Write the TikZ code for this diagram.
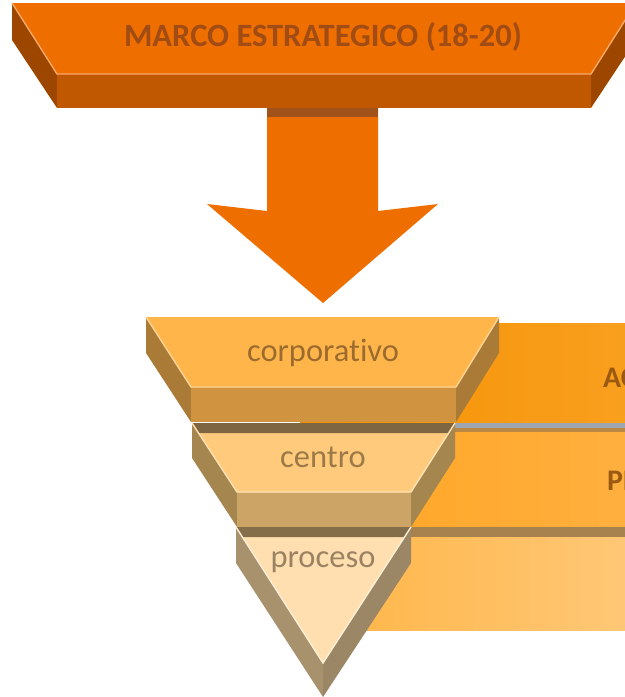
\documentclass[tikz,border=0pt]{standalone}
\usepackage{fontspec}
\setmainfont[Ligatures=NoCommon]{Carlito}
\definecolor{bannerTop}{HTML}{EF6E00}
\definecolor{bannerFront}{HTML}{BF5800}
\definecolor{bannerSide}{HTML}{9C4600}
\definecolor{bannerEdge}{HTML}{F8A868}
\definecolor{bannerText}{HTML}{A04C14}
\definecolor{arrowShade}{HTML}{A05218}
\definecolor{corpTop}{HTML}{FFB54A}
\definecolor{corpFront}{HTML}{D09440}
\definecolor{corpSide}{HTML}{A97B36}
\definecolor{corpEdge}{HTML}{FFD496}
\definecolor{corpText}{HTML}{9C6B2E}
\definecolor{centroTop}{HTML}{FFCA7C}
\definecolor{centroFront}{HTML}{CCA566}
\definecolor{centroSide}{HTML}{A6864F}
\definecolor{centroEdge}{HTML}{FFE2B4}
\definecolor{centroText}{HTML}{9B7A48}
\definecolor{procesoTop}{HTML}{FFDFB0}
\definecolor{procesoSide}{HTML}{A8926E}
\definecolor{procesoEdge}{HTML}{FFEFD6}
\definecolor{procesoText}{HTML}{9A8262}
\definecolor{tierShadow}{HTML}{7E6642}
\definecolor{bandA}{HTML}{F59000}
\definecolor{bandAr}{HTML}{F9A020}
\definecolor{bandB}{HTML}{FFA422}
\definecolor{bandBr}{HTML}{FFB040}
\definecolor{bandC}{HTML}{FFB444}
\definecolor{bandCr}{HTML}{FFC878}
\definecolor{bandLine}{HTML}{9EA7B0}
\definecolor{bandShadow}{HTML}{A8824E}
\definecolor{bandText}{HTML}{9A5A12}
\tikzset{
  tierlabel/.style={font=\fontsize{18.5}{21}\selectfont},
  bandlabel/.style={anchor=west,font=\bfseries\fontsize{17}{19}\selectfont,text=bandText}
}
\begin{document}
\begin{tikzpicture}[x=0.02cm,y=-0.02cm]
        \useasboundingbox (0,0) rectangle (625,697);
        \clip (0,0) rectangle (625,697);

        % bands behind the funnel
        \shade[left color=bandA,right color=bandAr] (300,323) rectangle (640,423);
        \shade[left color=bandB,right color=bandBr] (300,428) rectangle (640,527);
        \shade[left color=bandC,right color=bandCr] (300,537) rectangle (640,630);
        \fill[bandLine] (300,423) rectangle (640,428);
        \fill[bandShadow!80!bandB] (300,428) rectangle (640,432);
        \fill[bandShadow] (300,527) rectangle (640,537);
        \node[bandlabel] (ac) at (597,378) {AC};
        \node[bandlabel] (pl) at (601,481) {PL};

        % banner
        \fill[bannerSide] (12,3) -- (12,40) -- (57,108) -- (57,74) -- cycle;
        \fill[bannerSide] (636,3) -- (636,40) -- (591,108) -- (591,74) -- cycle;
        \fill[bannerFront] (57,74) rectangle (591,108);
        \fill[bannerTop] (12,3) -- (636,3) -- (591,74) -- (57,74) -- cycle;
        \draw[bannerEdge,line width=0.8pt] (12,3) -- (57,74) -- (591,74) -- (636,3);
        \node[font=\bfseries\fontsize{18.5}{21}\selectfont,text=bannerText] (marco) at (323,37) {MARCO ESTRATEGICO (18-20)};

        % arrow
        \fill[bannerTop] (267,108) -- (378,108) -- (378,211) -- (438,204) -- (323,303)
            -- (207,204) -- (267,211) -- cycle;
        \fill[arrowShade] (267,108) rectangle (378,117);

        % proceso
        \fill[procesoSide] (236,527) -- (236,563) -- (323,697) -- (323,663) -- cycle;
        \fill[procesoSide!92!black] (411,527) -- (411,563) -- (323,697) -- (323,663) -- cycle;
        \fill[procesoTop] (236,527) -- (411,527) -- (323,663) -- cycle;
        \fill[tierShadow!85!procesoSide] (236,527) -- (411,527) -- (405,537) -- (242,537) -- cycle;
        \draw[procesoEdge,line width=0.8pt] (236,527) -- (323,663) -- (411,527);
        \node[tierlabel,text=procesoText] (proceso) at (323,562) {proceso};

        % centro
        \fill[centroSide] (192,423) -- (192,458) -- (237,527) -- (237,492) -- cycle;
        \fill[centroSide] (455,423) -- (455,458) -- (411,527) -- (411,492) -- cycle;
        \fill[centroFront] (237,492) rectangle (411,527);
        \fill[centroTop] (192,423) -- (455,423) -- (411,492) -- (237,492) -- cycle;
        \fill[tierShadow] (192,423) -- (455,423) -- (449,433) -- (198,433) -- cycle;
        \draw[centroEdge,line width=0.8pt] (192,423) -- (237,492) -- (411,492) -- (455,423);
        \node[tierlabel,text=centroText] (centro) at (323,457) {centro};

        % corporativo
        \fill[corpSide] (146,317) -- (146,353) -- (191,422) -- (191,387) -- cycle;
        \fill[corpSide] (499,317) -- (499,353) -- (456,422) -- (456,387) -- cycle;
        \fill[corpFront] (191,387) rectangle (456,422);
        \fill[corpTop] (146,317) -- (499,317) -- (456,387) -- (191,387) -- cycle;
        \draw[corpEdge,line width=0.8pt] (146,317) -- (191,387) -- (456,387) -- (499,317);
        \node[tierlabel,text=corpText] (corp) at (323,353) {corporativo};

    \end{tikzpicture}
\end{document}
